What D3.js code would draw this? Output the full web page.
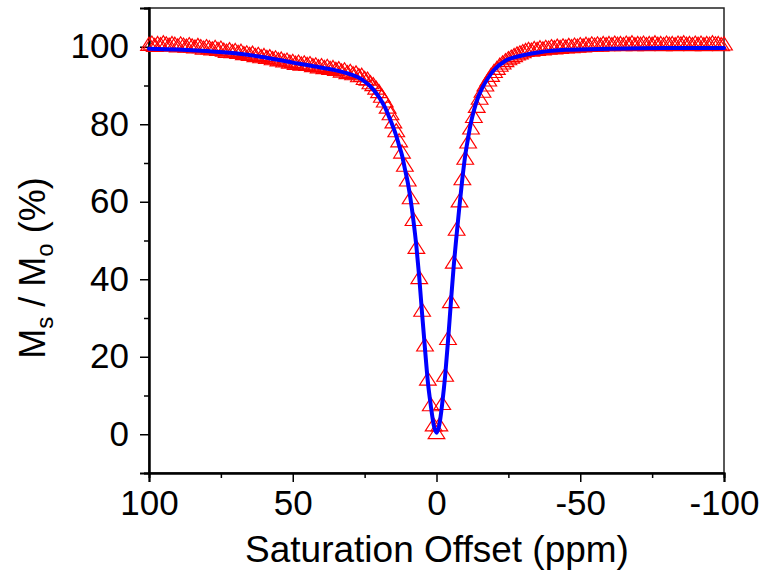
<!DOCTYPE html>
<html>
<head>
<meta charset="utf-8">
<script src="https://cdn.jsdelivr.net/npm/d3@7"></script>
<style>
  body { margin: 0; background: #fff; }
  text { font-family: "Liberation Sans", Arial, sans-serif; fill: #000; }
</style>
</head>
<body>
<div id="chart-div"></div>
<script>
// measured points: offset from 100 down to -100 ppm, 1 ppm apart
const offsets = d3.range(100, -101, -1);
const signal = [
  100.2, 100.5, 99.9, 100.4, 100.1, 100.6, 100.3, 100.0, 100.4, 100.2,
  99.8, 100.3, 100.0, 99.7, 100.1, 99.8, 99.5, 99.9, 99.6, 99.2,
  99.6, 99.3, 99.0, 99.4, 98.9, 99.2, 98.7, 98.4, 98.8, 98.3,
  98.6, 98.1, 98.4, 97.8, 98.0, 97.6, 97.9, 97.3, 97.6, 97.0,
  97.3, 96.8, 97.0, 96.5, 96.7, 96.2, 96.4, 95.9, 96.1, 95.6,
  95.8, 95.3, 95.6, 95.1, 95.4, 95.0, 95.2, 94.7, 94.9, 94.4,
  94.7, 94.2, 94.5, 94.0, 94.2, 93.7, 93.9, 93.3, 93.6, 92.9,
  93.2, 92.6, 92.8, 92.1, 92.2, 91.4, 91.2, 90.3, 89.8, 88.9,
  88.0, 86.8, 85.6, 84.0, 82.3, 80.2, 77.9, 75.3, 72.4, 69.0,
  65.2, 60.6, 55.0, 47.8, 40.0, 31.6, 22.6, 13.8, 7.2, 2.0,
  0.0,
  2.0, 7.5, 14.8, 24.3, 33.8, 44.0, 52.5, 59.8, 65.5, 70.8,
  75.0, 78.6, 81.6, 84.2, 86.3, 88.1, 89.7, 91.0, 92.2, 93.2,
  94.0, 94.8, 95.4, 96.0, 96.5, 96.9, 97.3, 97.7, 98.0, 98.3,
  98.6, 98.9, 98.7, 99.1, 98.9, 99.3, 99.0, 99.4, 99.2, 99.6,
  99.3, 99.7, 99.4, 99.8, 99.5, 99.9, 99.6, 100.0, 99.7, 100.1,
  99.8, 100.2, 99.9, 100.3, 100.0, 100.3, 100.0, 100.4, 100.1, 100.4,
  100.1, 100.5, 100.2, 100.4, 100.1, 100.5, 100.2, 100.6, 100.1, 100.4,
  100.2, 100.5, 100.1, 100.4, 100.2, 100.6, 100.2, 100.4, 100.1, 100.5,
  100.2, 100.4, 100.1, 100.5, 100.3, 100.6, 100.2, 100.4, 100.1, 100.5,
  100.2, 100.5, 100.1, 100.4, 100.2, 100.6, 100.3, 100.4, 100.1, 100.3
];

// fitted curve
const fitOffsets = [100, 90, 80, 70, 60, 50, 45, 40, 35, 30, 26, 22, 20, 18, 16, 14, 13, 12, 11, 10,
  9, 8, 7, 6, 5, 4, 3, 2, 1, 0, -1, -2, -3, -4, -5, -6, -7, -8, -9, -10,
  -11, -12, -13, -14, -16, -18, -20, -24, -30, -36, -45, -60, -80, -100];
const fitValues = [99.5, 99.3, 98.9, 98.3, 97.3, 95.9, 95.3, 94.6, 93.9, 92.9, 91.6, 89.0, 87.0, 84.5, 81.0, 77.0, 74.5, 72.0, 68.5, 65.0,
  60.5, 55.0, 48.5, 40.5, 31.0, 22.0, 13.5, 7.5, 2.5, 0.4, 2.5, 8.0, 15.0, 24.0, 34.0, 43.5, 51.5, 59.0, 66.0, 72.0,
  76.5, 80.5, 83.5, 86.0, 89.5, 92.0, 94.0, 96.4, 97.8, 98.6, 99.2, 99.5, 99.7, 99.7];

const xTicks = [100, 50, 0, -50, -100];
const yTicks = [0, 20, 40, 60, 80, 100];

const WIDTH = 767;
const HEIGHT = 578;
const MARGIN = { left: 149, right: 43, top: 8, bottom: 105 };

const svg = d3.select('#chart-div')
  .append('svg')
  .attr('width', WIDTH)
  .attr('height', HEIGHT);

const xScale = d3.scaleLinear()
  .domain([100, -100])
  .range([MARGIN.left, WIDTH - MARGIN.right]);

const yScale = d3.scaleLinear()
  .domain([-10, 110])
  .range([HEIGHT - MARGIN.bottom, MARGIN.top]);

// frame
svg.append('rect')
  .attr('x', MARGIN.left)
  .attr('y', MARGIN.top)
  .attr('width', WIDTH - MARGIN.right - MARGIN.left)
  .attr('height', HEIGHT - MARGIN.bottom - MARGIN.top)
  .attr('fill', 'none')
  .attr('stroke', '#222')
  .attr('stroke-width', 1.5);

// x axis
const xAxis = svg.append('g')
  .attr('transform', `translate(0,${HEIGHT - MARGIN.bottom})`)
  .call(d3.axisBottom(xScale).tickValues(xTicks).tickSize(9).tickPadding(8).tickFormat(d3.format('d')));
svg.append('g')
  .attr('transform', `translate(0,${HEIGHT - MARGIN.bottom})`)
  .call(d3.axisBottom(xScale).tickValues([75, 25, -25, -75]).tickSize(5).tickFormat(''));

// y axis
const yAxis = svg.append('g')
  .attr('transform', `translate(${MARGIN.left},0)`)
  .call(d3.axisLeft(yScale).tickValues(yTicks).tickSize(9).tickPadding(11));
svg.append('g')
  .attr('transform', `translate(${MARGIN.left},0)`)
  .call(d3.axisLeft(yScale).tickValues([-10, 10, 30, 50, 70, 90, 110]).tickSize(5).tickFormat(''));

svg.selectAll('.domain').attr('stroke', '#000').attr('stroke-width', 2);
svg.selectAll('.tick line').attr('stroke', '#000').attr('stroke-width', 1.5);
svg.selectAll('.tick text')
  .style('font-family', '"Liberation Sans", Arial, sans-serif')
  .style('font-size', '35px')
  .attr('fill', '#000');
xAxis.selectAll('.tick text').text(d => d < 0 ? '-' + Math.abs(d) : d);

// data triangles
const tri = d3.symbol().type(d3.symbolTriangle).size(100);
svg.append('g')
  .selectAll('path')
  .data(offsets)
  .join('path')
  .attr('d', tri)
  .attr('transform', (d, i) => `translate(${xScale(d)},${yScale(signal[i])}) scale(1.1,1)`)
  .attr('fill', 'none')
  .attr('stroke', '#ff0000')
  .attr('stroke-width', 1.1);

// fit line
const line = d3.line()
  .x((d, i) => xScale(fitOffsets[i]))
  .y(d => yScale(d))
  .curve(d3.curveMonotoneX);

svg.append('path')
  .datum(fitValues)
  .attr('d', line)
  .attr('fill', 'none')
  .attr('stroke', '#0000ff')
  .attr('stroke-width', 4)
  .attr('stroke-linejoin', 'round')
  .attr('stroke-linecap', 'round');

// axis titles
svg.append('text')
  .attr('x', 437)
  .attr('y', 562)
  .attr('text-anchor', 'middle')
  .style('font-size', '37px')
  .text('Saturation Offset (ppm)');

const ylab = svg.append('text')
  .attr('transform', 'translate(45,268) rotate(-90)')
  .attr('text-anchor', 'middle')
  .style('font-size', '36px');
ylab.append('tspan').text('M');
ylab.append('tspan').attr('font-size', '24px').attr('dy', 8).text('s');
ylab.append('tspan').attr('dy', -8).text(' / M');
ylab.append('tspan').attr('font-size', '24px').attr('dy', 8).text('o');
ylab.append('tspan').attr('dy', -8).text(' (%)');
</script>
</body>
</html>
